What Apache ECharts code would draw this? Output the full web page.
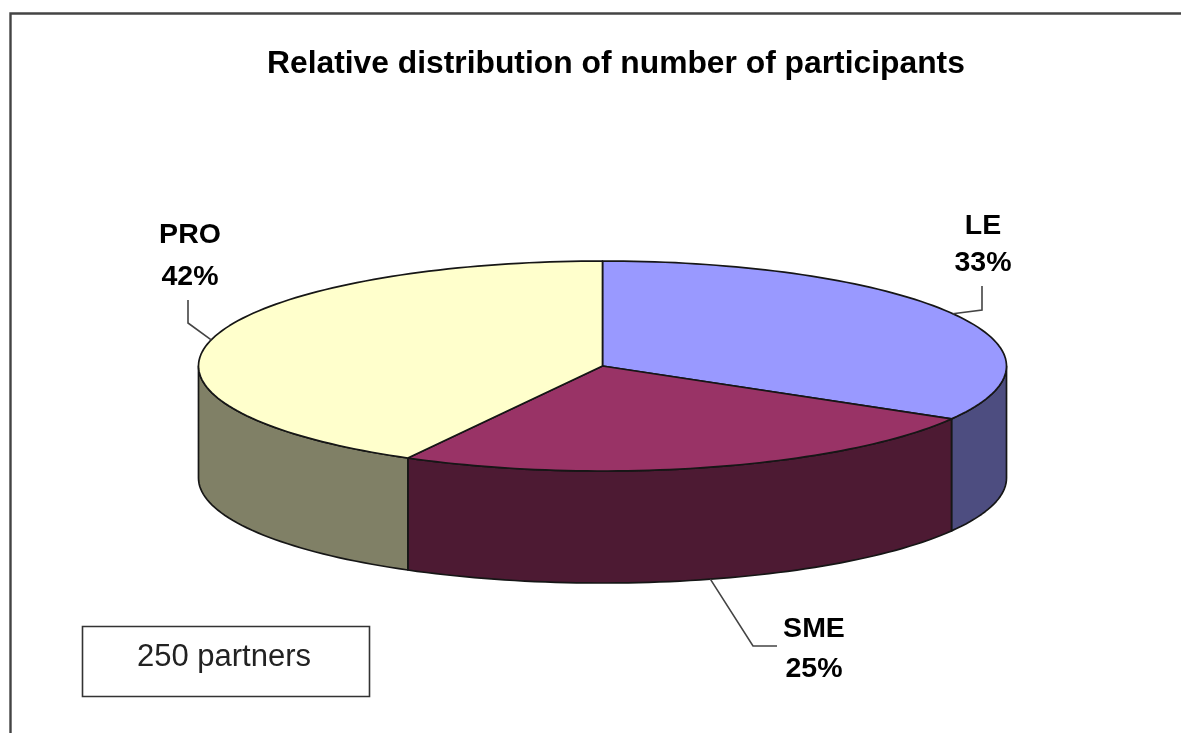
<!DOCTYPE html>
<html>
<head>
<meta charset="utf-8">
<style>html,body{margin:0;padding:0;background:#fff}#c{width:1181px;height:733px}</style>
<script src="https://cdn.jsdelivr.net/npm/echarts@6/dist/echarts.min.js"></script>
</head>
<body>
<div id="c"></div>
<script>
const categories = ['LE', 'SME', 'PRO'];
const shares = [33.4, 24.6, 42];
const topColors = ['#9999FF', '#993366', '#FFFFCC'];
const sideColors = ['#4D4D80', '#4D1A33', '#808066'];
const titleText = 'Relative distribution of number of participants';
const noteText = '250 partners';

const total = shares.reduce((a, b) => a + b, 0);
const pie = { cx: 602.5, cy: 366, rx: 404, ry: 105, depth: 112 };
const edge = { stroke: '#161616', lineWidth: 1.7, lineJoin: 'round' };
const callouts = [
  { elbow: [982, 310], end: [982, 286], x: 983, nameY: 226, pctY: 263, onSide: false },
  { elbow: [753, 646], end: [777, 646], x: 814, nameY: 629, pctY: 669, onSide: true },
  { elbow: [188, 323], end: [188, 300], x: 190, nameY: 235, pctY: 277, onSide: false }
];

function pt(deg, drop) {
  const a = deg * Math.PI / 180;
  return [pie.cx + pie.rx * Math.sin(a), pie.cy - pie.ry * Math.cos(a) + (drop || 0)];
}
function arc(a0, a1, drop) {
  const n = Math.max(2, Math.ceil(Math.abs(a1 - a0) / 1.5));
  const out = [];
  for (let i = 0; i <= n; i++) out.push(pt(a0 + (a1 - a0) * i / n, drop));
  return out;
}

function renderSlice(params, api) {
  const i = params.dataIndex;
  let before = 0;
  for (let k = 0; k < i; k++) before += shares[k];
  const value = api.value(0);
  const a0 = before / total * 360;
  const a1 = (before + value) / total * 360;
  const children = [];

  // front wall: only the part of the rim facing the viewer (90..270 deg)
  const s0 = Math.max(a0, 90), s1 = Math.min(a1, 270);
  if (s1 > s0) {
    const wall = arc(s0, s1, 0).concat(arc(s1, s0, pie.depth));
    children.push({ type: 'polygon', shape: { points: wall },
      style: Object.assign({ fill: sideColors[i] }, edge) });
  }
  // top face
  children.push({ type: 'polygon', shape: { points: [[pie.cx, pie.cy]].concat(arc(a0, a1, 0)) },
    style: Object.assign({ fill: topColors[i] }, edge) });

  // callout
  const c = callouts[i];
  const start = pt((a0 + a1) / 2, c.onSide ? pie.depth : 0);
  children.push({ type: 'polyline', shape: { points: [start, c.elbow, c.end] },
    style: { fill: 'none', stroke: '#444', lineWidth: 1.6 }, z2: 5 });
  const font = 'bold 28.5px "Liberation Sans", Arial, sans-serif';
  children.push({ type: 'text', z2: 6, style: { text: categories[i], x: c.x, y: c.nameY, font: font,
    fill: '#000', align: 'center', verticalAlign: 'middle' } });
  children.push({ type: 'text', z2: 6, style: { text: Math.round(value / total * 100) + '%', x: c.x, y: c.pctY, font: font,
    fill: '#000', align: 'center', verticalAlign: 'middle' } });
  return { type: 'group', children: children };
}

const chart = echarts.init(document.getElementById('c'), null, { renderer: 'canvas' });
chart.setOption({
  animation: false,
  backgroundColor: '#fff',
  title: {
    text: titleText, top: 43, left: 262,
    textStyle: { fontFamily: '"Liberation Sans", Arial, sans-serif', fontSize: 31.8, fontWeight: 'bold', color: '#000' }
  },
  graphic: [
    { type: 'polyline', silent: true, shape: { points: [[10.5, 733], [10.5, 13.5], [1181, 13.5]] },
      style: { fill: 'none', stroke: '#444', lineWidth: 2.4 } },
    { type: 'rect', silent: true, shape: { x: 82.5, y: 626.5, width: 287, height: 70 },
      style: { fill: '#fff', stroke: '#333', lineWidth: 1.6 } },
    { type: 'text', silent: true, style: { text: noteText, x: 224, y: 657, align: 'center', verticalAlign: 'middle',
      font: '31px "Liberation Sans", Arial, sans-serif', fill: '#222' } }
  ],
  series: [{
    type: 'custom',
    coordinateSystem: 'none',
    silent: true,
    renderItem: renderSlice,
    encode: { value: 0 },
    data: categories.map((name, i) => ({ name: name, value: [shares[i]] }))
  }]
});
</script>
</body>
</html>
